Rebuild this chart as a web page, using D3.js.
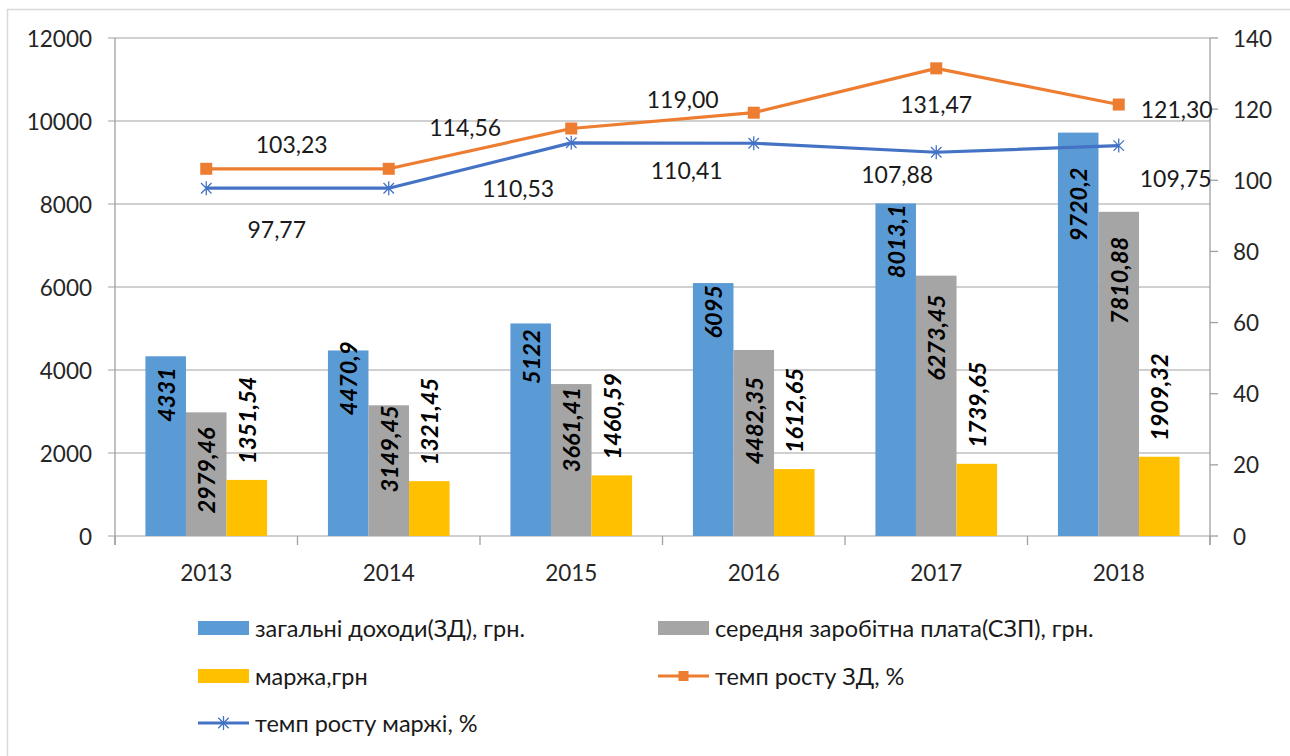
<!DOCTYPE html>
<html>
<head>
<meta charset="utf-8">
<script src="https://cdn.jsdelivr.net/npm/d3@7"></script>
<style>
  body { margin: 0; background: #fff; }
  svg { display: block; font-family: Lato, "Open Sans", sans-serif; }
</style>
</head>
<body>
<div id="chart"></div>
<script>
// data
const years = ['2013', '2014', '2015', '2016', '2017', '2018'];
const totalIncome = [4331, 4470.9, 5122, 6095, 8013.1, 9720.2];
const avgSalary = [2979.46, 3149.45, 3661.41, 4482.35, 6273.45, 7810.88];
const marginUah = [1351.54, 1321.45, 1460.59, 1612.65, 1739.65, 1909.32];
const incomeGrowth = [103.23, 103.23, 114.56, 119.00, 131.47, 121.30];
const marginGrowth = [97.77, 97.77, 110.53, 110.41, 107.88, 109.75];
const leftTicks = [0, 2000, 4000, 6000, 8000, 10000, 12000];
const rightTicks = [0, 20, 40, 60, 80, 100, 120, 140];

// hand-moved labels in the original (px shift of label centre from its point)
const incomeGrowthShift = [null, [-97, -25], [-106, -1], [-71, -14], [0, 36], [58, 4]];
const marginGrowthShift = [null, [-112, 41], [-53, 45], [-67, 27], [-39, 22], [57, 32]];
// bar label: distance of text end below bar top
const incomeNudge = [11, -9, 6, 2, 1, 35];
const salaryNudge = [15, 0, 3, 27, 19, 25];
const marginGap = 16;

const width = 1290, height = 756;
const plot = { left: 115, right: 1210, top: 38, bottom: 536 };

const colours = {
  income: '#5B9BD5', salary: '#A5A5A5', margin: '#FFC000',
  incGrowth: '#ED7D31', marGrowth: '#4472C4'
};

const svg = d3.select('#chart').append('svg')
  .attr('width', width)
  .attr('height', height);

// outer chart frame
svg.append('rect')
  .attr('x', 7.5).attr('y', 9.5)
  .attr('width', width + 20).attr('height', height + 20)
  .attr('fill', '#fff')
  .attr('stroke', '#d9d9d9')
  .attr('stroke-width', 1.5);

const x = d3.scaleBand().domain(years).range([plot.left, plot.right]);
const series = ['income', 'salary', 'margin'];
// gap width 150% -> each bar is band / 4.5
const sideGap = x.bandwidth() * 0.75 / 4.5;
const x1 = d3.scaleBand().domain(series)
  .range([sideGap, x.bandwidth() - sideGap]);

const yL = d3.scaleLinear().domain([0, 12000]).range([plot.bottom, plot.top]);
const yR = d3.scaleLinear().domain([0, 140]).range([plot.bottom, plot.top]);

// gridlines + left ticks
svg.append('g').selectAll('line')
  .data(leftTicks)
  .join('line')
  .attr('x1', plot.left - 7).attr('x2', plot.right)
  .attr('y1', d => yL(d)).attr('y2', d => yL(d))
  .attr('stroke', '#c0c0c0')
  .attr('stroke-width', 1.3);

// axis lines
const axisColour = '#a0a0a0';
svg.append('line')
  .attr('x1', plot.left).attr('x2', plot.left)
  .attr('y1', plot.top).attr('y2', plot.bottom + 9)
  .attr('stroke', axisColour).attr('stroke-width', 1.3);
svg.append('line')
  .attr('x1', plot.right).attr('x2', plot.right)
  .attr('y1', plot.top).attr('y2', plot.bottom + 9)
  .attr('stroke', axisColour).attr('stroke-width', 1.3);

// category ticks
const bounds = years.map(d => x(d)).concat([plot.right]);
svg.append('g').selectAll('line')
  .data(bounds)
  .join('line')
  .attr('x1', d => d).attr('x2', d => d)
  .attr('y1', plot.bottom).attr('y2', plot.bottom + 9)
  .attr('stroke', axisColour).attr('stroke-width', 1.3);

// right ticks
svg.append('g').selectAll('line')
  .data(rightTicks)
  .join('line')
  .attr('x1', plot.right).attr('x2', plot.right + 8)
  .attr('y1', d => yR(d)).attr('y2', d => yR(d))
  .attr('stroke', axisColour).attr('stroke-width', 1.3);

// tick labels
svg.append('g').selectAll('text')
  .data(leftTicks)
  .join('text')
  .attr('x', 92)
  .attr('y', d => yL(d))
  .attr('text-anchor', 'end')
  .attr('dominant-baseline', 'central')
  .attr('font-size', 22.5)
  .attr('fill', '#262626')
  .text(d => d);

svg.append('g').selectAll('text')
  .data(rightTicks)
  .join('text')
  .attr('x', 1233)
  .attr('y', d => yR(d))
  .attr('dominant-baseline', 'central')
  .attr('font-size', 22.5)
  .attr('fill', '#262626')
  .text(d => d);

svg.append('g').selectAll('text')
  .data(years)
  .join('text')
  .attr('x', d => x(d) + x.bandwidth() / 2)
  .attr('y', 572)
  .attr('text-anchor', 'middle')
  .attr('dominant-baseline', 'central')
  .attr('font-size', 22.5)
  .attr('fill', '#262626')
  .text(d => d);

// bars
const barRows = years.map((yr, i) => ({
  yr, i,
  values: [
    { key: 'income', v: totalIncome[i] },
    { key: 'salary', v: avgSalary[i] },
    { key: 'margin', v: marginUah[i] }
  ]
}));

const groups = svg.append('g').selectAll('g')
  .data(barRows)
  .join('g')
  .attr('transform', d => `translate(${x(d.yr)},0)`);

groups.selectAll('rect')
  .data(d => d.values)
  .join('rect')
  .attr('x', d => x1(d.key))
  .attr('width', x1.bandwidth())
  .attr('y', d => yL(d.v))
  .attr('height', d => yL(0) - yL(d.v))
  .attr('fill', d => colours[d.key]);

const fmt = v => String(v).replace('.', ',');

groups.selectAll('text')
  .data(d => d.values.map(e => ({ ...e, i: d.i })))
  .join('text')
  .attr('transform', d => {
    const cx = x1(d.key) + x1.bandwidth() / 2;
    let ty;
    if (d.key === 'income') ty = yL(d.v) + incomeNudge[d.i];
    else if (d.key === 'salary') ty = yL(d.v) + salaryNudge[d.i];
    else ty = yL(d.v) - marginGap;
    return `translate(${cx},${ty}) rotate(-90)`;
  })
  .attr('text-anchor', d => d.key === 'margin' ? 'start' : 'end')
  .attr('dominant-baseline', 'central')
  .attr('font-size', 23.5)
  .attr('font-weight', 'bold')
  .attr('font-style', 'italic')
  .attr('fill', '#000')
  .text(d => fmt(d.v));

// lines
const cxOf = i => x(years[i]) + x.bandwidth() / 2;
const line = scale => d3.line().x((d, i) => cxOf(i)).y(d => scale(d));

svg.append('path')
  .datum(incomeGrowth)
  .attr('d', line(yR))
  .attr('fill', 'none')
  .attr('stroke', colours.incGrowth)
  .attr('stroke-width', 3.2)
  .attr('stroke-linejoin', 'round');

svg.append('g').selectAll('rect')
  .data(incomeGrowth)
  .join('rect')
  .attr('x', (d, i) => cxOf(i) - 6)
  .attr('y', d => yR(d) - 6)
  .attr('width', 12).attr('height', 12)
  .attr('fill', colours.incGrowth);

svg.append('path')
  .datum(marginGrowth)
  .attr('d', line(yR))
  .attr('fill', 'none')
  .attr('stroke', colours.marGrowth)
  .attr('stroke-width', 3.2)
  .attr('stroke-linejoin', 'round');

function star(cx, cy, r) {
  const a = r * 0.75;
  return `M${cx},${cy - r}L${cx},${cy + r}` +
    `M${cx - a},${cy - a}L${cx + a},${cy + a}` +
    `M${cx - a},${cy + a}L${cx + a},${cy - a}`;
}

svg.append('g').selectAll('path')
  .data(marginGrowth)
  .join('path')
  .attr('d', (d, i) => star(cxOf(i), yR(d), 7))
  .attr('fill', 'none')
  .attr('stroke', colours.marGrowth)
  .attr('stroke-width', 1.3);

// line labels
function lineLabels(values, shifts) {
  svg.append('g').selectAll('text')
    .data(values.map((v, i) => ({ v, i })).filter(d => shifts[d.i]))
    .join('text')
    .attr('x', d => cxOf(d.i) + shifts[d.i][0])
    .attr('y', d => yR(d.v) + shifts[d.i][1])
    .attr('text-anchor', 'middle')
    .attr('dominant-baseline', 'central')
    .attr('font-size', 23)
    .attr('fill', '#1a1a1a')
    .text(d => d.v.toFixed(2).replace('.', ','));
}
lineLabels(incomeGrowth, incomeGrowthShift);
lineLabels(marginGrowth, marginGrowthShift);

// legend
const legendItems = [
  { label: 'загальні доходи(ЗД), грн.', type: 'bar', colour: colours.income, col: 0, row: 0 },
  { label: 'середня заробітна плата(СЗП), грн.', type: 'bar', colour: colours.salary, col: 1, row: 0 },
  { label: 'маржа,грн', type: 'bar', colour: colours.margin, col: 0, row: 1 },
  { label: 'темп росту ЗД, %', type: 'square', colour: colours.incGrowth, col: 1, row: 1 },
  { label: 'темп росту маржі, %', type: 'star', colour: colours.marGrowth, col: 0, row: 2 }
];
const legendX = [198, 658];
const legendY = [628, 676, 723];

const lg = svg.append('g').selectAll('g')
  .data(legendItems)
  .join('g')
  .attr('transform', d => `translate(${legendX[d.col]},${legendY[d.row]})`);

lg.filter(d => d.type === 'bar').append('rect')
  .attr('x', 0).attr('y', -7)
  .attr('width', 51).attr('height', 14)
  .attr('fill', d => d.colour);

lg.filter(d => d.type !== 'bar').append('line')
  .attr('x1', 0).attr('x2', 51)
  .attr('stroke', d => d.colour)
  .attr('stroke-width', 3.2);

lg.filter(d => d.type === 'square').append('rect')
  .attr('x', 20.5).attr('y', -5)
  .attr('width', 10).attr('height', 10)
  .attr('fill', d => d.colour);

lg.filter(d => d.type === 'star').append('path')
  .attr('d', star(25.5, 0, 7))
  .attr('fill', 'none')
  .attr('stroke', d => d.colour)
  .attr('stroke-width', 1.3);

lg.append('text')
  .attr('x', 57)
  .attr('dominant-baseline', 'central')
  .attr('font-size', 23.5)
  .attr('fill', '#1a1a1a')
  .text(d => d.label);
</script>
</body>
</html>
